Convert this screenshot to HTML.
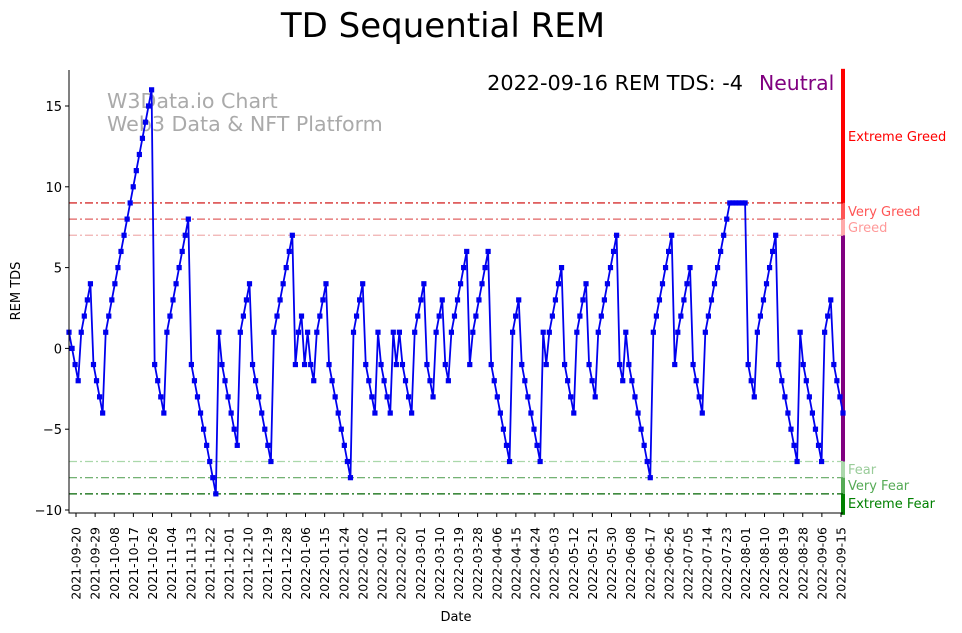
<!DOCTYPE html>
<html><head><meta charset="utf-8"><style>
body{margin:0;background:#fff;}
svg{display:block;font-family:"DejaVu Sans","Liberation Sans",sans-serif;}
</style></head><body>
<svg id="chart" width="962" height="633" viewBox="0 0 962 633">
<text x="443" y="37" font-size="34" text-anchor="middle">TD Sequential REM</text>
<text x="107" y="108" font-size="20.6" fill="#aaaaaa">W3Data.io Chart</text>
<text x="107" y="131" font-size="20.6" fill="#aaaaaa">Web3 Data &amp; NFT Platform</text>
<text x="743" y="90" font-size="20.8" text-anchor="end">2022-09-16 REM TDS: -4</text>
<text x="759" y="90" font-size="20.4" fill="#800080">Neutral</text>
<g id="zones"></g>
<g id="grid"></g>
<g id="series"></g>
<g id="axes"></g>
<text x="456" y="621" font-size="13" text-anchor="middle">Date</text>
<text x="20" y="291" font-size="13" text-anchor="middle" transform="rotate(-90 20 291)">REM TDS</text>
</svg>
<script>
const values = [1,0,-1,-2,1,2,3,4,-1,-2,-3,-4,
1,2,3,4,5,6,7,8,9,10,11,12,13,14,15,16,
-1,-2,-3,-4,1,2,3,4,5,6,7,8,
-1,-2,-3,-4,-5,-6,-7,-8,-9,
1,-1,-2,-3,-4,-5,-6,
1,2,3,4,-1,-2,-3,-4,-5,-6,-7,
1,2,3,4,5,6,7,
-1,1,2,-1,1,-1,-2,1,2,3,4,
-1,-2,-3,-4,-5,-6,-7,-8,
1,2,3,4,-1,-2,-3,-4,1,-1,-2,-3,-4,1,-1,1,
-1,-2,-3,-4,1,2,3,4,-1,-2,-3,1,2,3,-1,-2,1,2,3,4,5,6,
-1,1,2,3,4,5,6,-1,-2,-3,-4,-5,-6,-7,
1,2,3,-1,-2,-3,-4,-5,-6,-7,1,-1,1,2,3,4,5,
-1,-2,-3,-4,1,2,3,4,-1,-2,-3,1,2,3,4,5,6,7,
-1,-2,1,-1,-2,-3,-4,-5,-6,-7,-8,
1,2,3,4,5,6,7,-1,1,2,3,4,5,-1,-2,-3,-4,
1,2,3,4,5,6,7,8,9,9,9,9,9,9,
-1,-2,-3,1,2,3,4,5,6,7,
-1,-2,-3,-4,-5,-6,-7,1,-1,-2,-3,-4,-5,-6,-7,1,2,3,-1,-2,-3,-4];
const yTicks = [-10,-5,0,5,10,15];
const xTickLabels = ["2021-09-20","2021-09-29","2021-10-08","2021-10-17","2021-10-26","2021-11-04","2021-11-13","2021-11-22","2021-12-01","2021-12-10","2021-12-19","2021-12-28","2022-01-06","2022-01-15","2022-01-24","2022-02-02","2022-02-11","2022-02-20","2022-03-01","2022-03-10","2022-03-19","2022-03-28","2022-04-06","2022-04-15","2022-04-24","2022-05-03","2022-05-12","2022-05-21","2022-05-30","2022-06-08","2022-06-17","2022-06-26","2022-07-05","2022-07-14","2022-07-23","2022-08-01","2022-08-10","2022-08-19","2022-08-28","2022-09-06","2022-09-15"];
const levels = [9,8,7,-7,-8,-9];
const levelColors = ["#cc0000","#e06060","#f0b0b0","#aad8aa","#60a860","#006400"];
const zoneLabels = ["Extreme Greed","Very Greed","Greed","Fear","Very Fear","Extreme Fear"];

const NS="http://www.w3.org/2000/svg";
const L=69,R=843,T=70,B=513;
const y=v=>348.4-v*16.16;
const x=i=>L+(R-L)*i/(values.length-1);
const xt=k=>76+k*19.125;
function mk(tag,attrs,parent){const e=document.createElementNS(NS,tag);for(const k in attrs)e.setAttribute(k,attrs[k]);document.getElementById(parent).appendChild(e);return e;}

const bands=[[17.3,9,"#ff0000"],[9,8,"#ff5555"],[8,7,"#ffaaaa"],[7,-7,"#800080"],[-7,-8,"#aad8aa"],[-8,-9,"#55aa55"],[-9,-10.3,"#008000"]];
bands.forEach(b=>{const r=mk('rect',{x:R-2,y:y(b[0]),width:4,height:y(b[1])-y(b[0]),fill:b[2]},'zones');

});
const zy=[136,211,227,469,485,503];
const zc=["#ff0000","#ff5555","#ff9999","#99cc99","#55aa55","#008000"];
zoneLabels.forEach((t,i)=>{const e=mk('text',{x:848,y:zy[i]+5,'font-size':13,fill:zc[i]},'zones');e.textContent=t;

});

levels.forEach((v,i)=>{const l=mk('line',{x1:L,x2:R,y1:y(v),y2:y(v),stroke:levelColors[i],'stroke-width':1.2,'stroke-dasharray':'8,3,2,3'},'grid');

});

const pts=values.map((v,i)=>x(i).toFixed(2)+','+y(v).toFixed(2)).join(' ');
const pl=mk('polyline',{points:pts,fill:'none',stroke:'#0000ee','stroke-width':1.8},'series');


values.forEach((v,i)=>{const m=mk('rect',{x:x(i)-2.6,y:y(v)-2.6,width:5.2,height:5.2,fill:'#0000ee'},'series');

});

const sp=mk('path',{d:`M${L},${T}V${B}H${R}`,fill:'none',stroke:'#000','stroke-width':1},'axes');


yTicks.forEach(v=>{mk('line',{x1:L-4,x2:L,y1:y(v),y2:y(v),stroke:'#000'},'axes');
const t=mk('text',{x:L-7,y:y(v)+5,'font-size':13,'text-anchor':'end'},'axes');t.textContent=v<0?'\u2212'+(-v):v;

});
xTickLabels.forEach((s,k)=>{const xx=xt(k);mk('line',{x1:xx,x2:xx,y1:B,y2:B+4,stroke:'#000'},'axes');
const t=mk('text',{x:0,y:0,'font-size':12.5,'text-anchor':'end',transform:`translate(${xx+4.5},${B+14}) rotate(-90)`},'axes');t.textContent=s;

});
</script>
</body></html>
